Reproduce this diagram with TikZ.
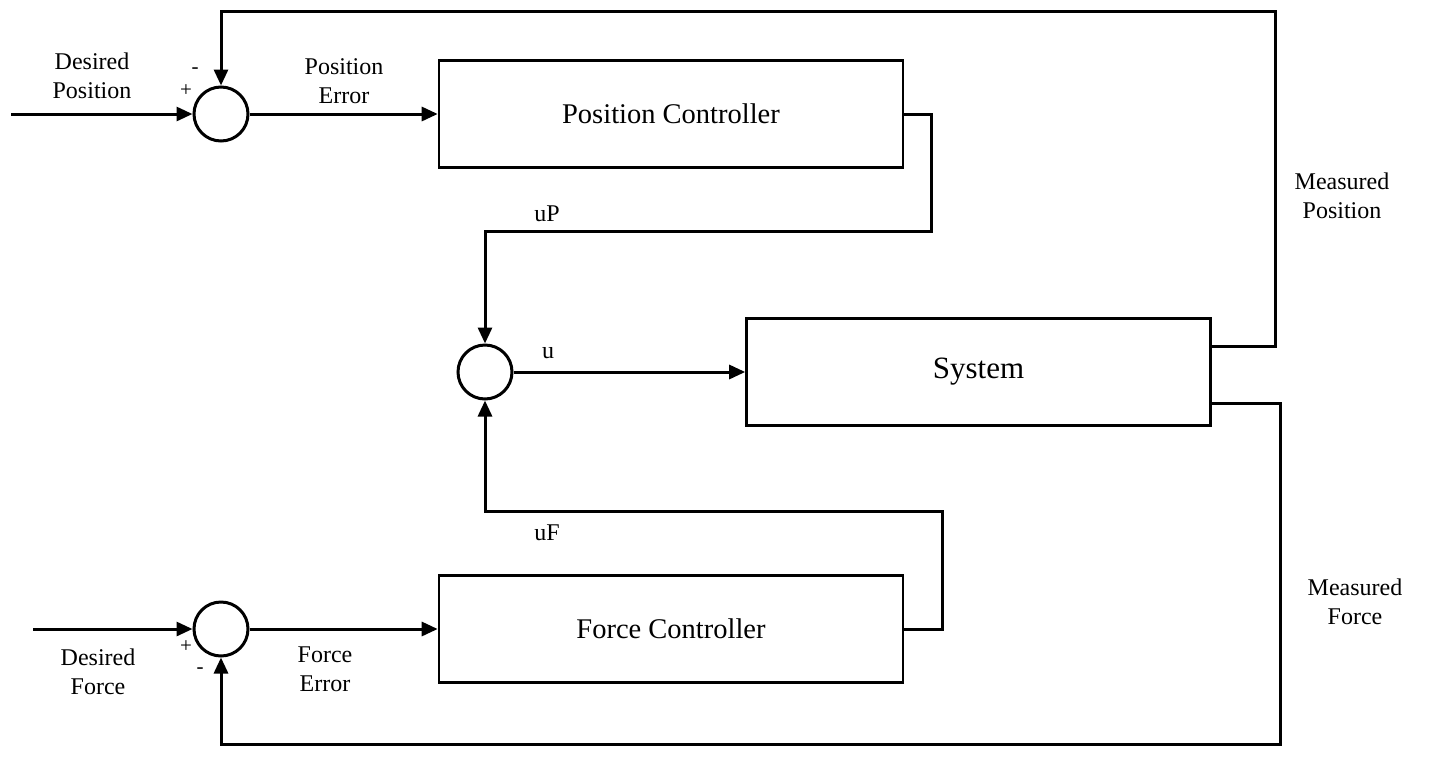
\documentclass[tikz,border=0pt]{standalone}
\usepackage{fontspec}
\setmainfont{Liberation Serif}
\usetikzlibrary{arrows.meta}
\begin{document}
\begin{tikzpicture}[x=1pt,y=-1pt,
  wire/.style={line width=3pt},
  arr/.style={wire,-{Triangle[length=16pt,width=14pt]}},
  sumnode/.style={circle,draw,line width=3pt,minimum size=54pt,inner sep=0pt},
  blockbox/.style={draw,line width=2.6pt,minimum width=464pt,minimum height=107pt,font=\fontsize{28.5pt}{32pt}\selectfont},
  lbl/.style={font=\fontsize{24pt}{29pt}\selectfont,align=center,inner sep=0pt},
  sgn/.style={font=\fontsize{21pt}{24pt}\selectfont,inner sep=0pt}]
\useasboundingbox (0,0) rectangle (1430,756);
\node[sumnode] (s1) at (221,114) {};
\node[sumnode] (s2) at (485,372) {};
\node[sumnode] (s3) at (221,629) {};
\node[blockbox] (pc) at (671,114) {Position Controller};
\node[blockbox] (sys) at (978.5,372) {\fontsize{31pt}{34pt}\selectfont System};
\node[blockbox] (fc) at (671,629) {Force Controller};
\coordinate (inP) at (11,114);
\coordinate (inF) at (33,629);
% signal labels
\node[lbl] (ldp) at (92,76) {Desired\\Position};
\node[lbl] (lpe) at (344,81) {Position\\Error};
\node[lbl] (lmp) at (1342,196) {Measured\\Position};
\node[lbl] (lup) at (547,214) {uP};
\node[lbl] (lu) at (548,353) {u};
\node[lbl] (luf) at (547,533) {uF};
\node[lbl] (lmf) at (1355,602) {Measured\\Force};
\node[lbl] (ldf) at (98,672) {Desired\\Force};
\node[lbl] (lfe) at (325,669) {Force\\Error};
\node[sgn] (m1) at (195,71) {-};
\node[sgn] (p1) at (186,91) {+};
\node[sgn] (p3) at (186,647) {+};
\node[sgn] (m3) at (200,671) {-};
% connectors
\draw[arr] (inP) -- (s1.west);
\draw[arr] (s1.east) -- (pc.west);
\draw[arr] (sys.east |- 0,346) -- (1275,346) -- (1275,11) -- (221,11) -- (s1.north);
\draw[arr] (pc.east) -- (931,114) -- (931,231) -- (485,231) -- (s2.north);
\draw[arr] (s2.east) -- (sys.west);
\draw[arr] (sys.east |- 0,403) -- (1280,403) -- (1280,744) -- (221,744) -- (s3.south);
\draw[arr] (inF) -- (s3.west);
\draw[arr] (s3.east) -- (fc.west);
\draw[arr] (fc.east) -- (942,629) -- (942,511) -- (485,511) -- (s2.south);
\end{tikzpicture}
\end{document}
